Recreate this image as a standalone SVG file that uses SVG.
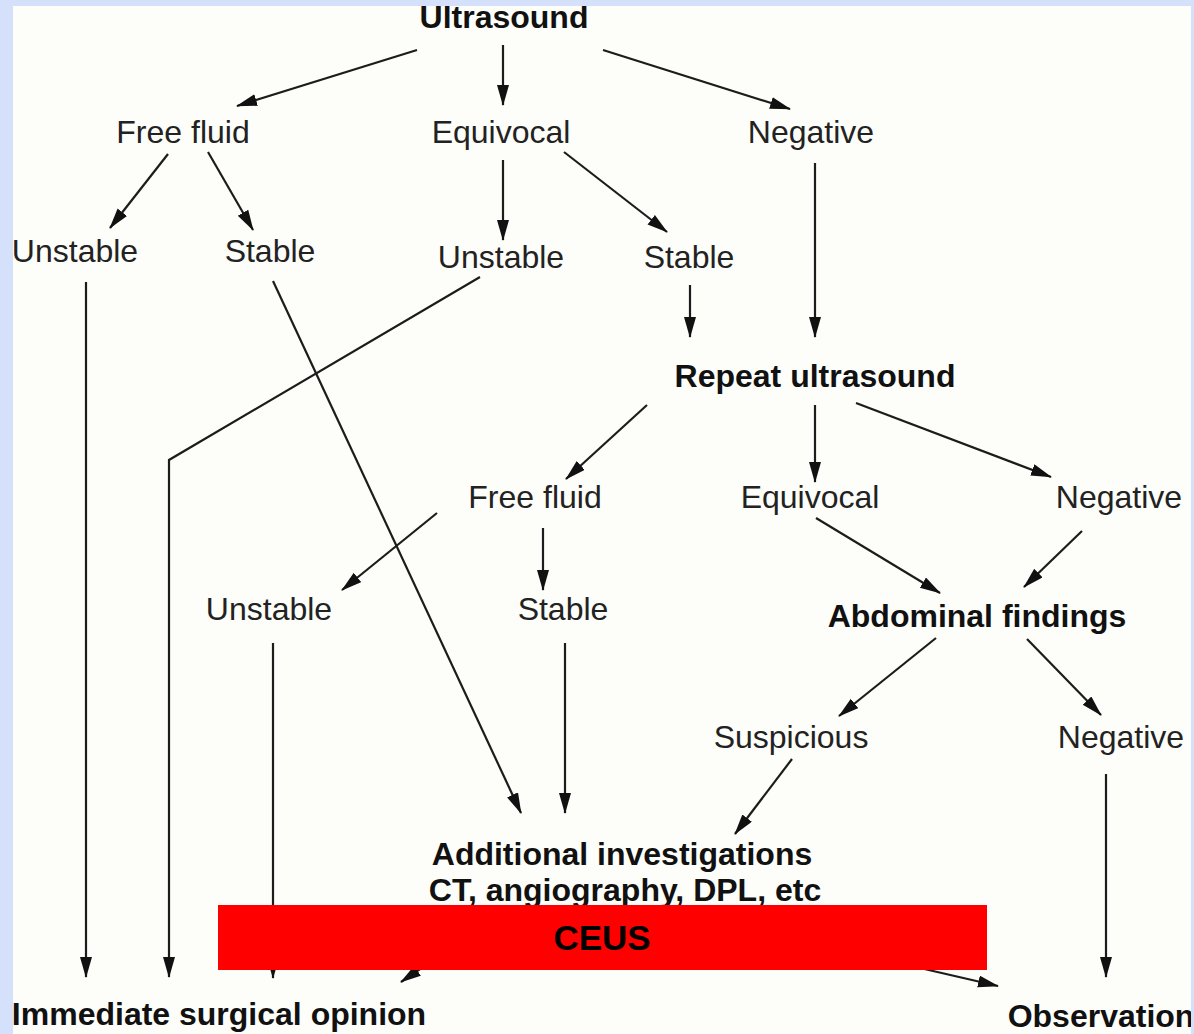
<svg xmlns="http://www.w3.org/2000/svg" width="1194" height="1034" viewBox="0 0 1194 1034">
<defs>
<style>
.t{font-family:"Liberation Sans",Arial,sans-serif;font-size:32px;fill:#222;text-anchor:middle}
.b{font-weight:bold;fill:#111}
.c line,.c polyline{stroke:#1c1c1c;stroke-width:2.2;fill:none;marker-end:url(#ah)}
</style>
<marker id="ah" markerUnits="userSpaceOnUse" markerWidth="22" markerHeight="13" refX="20" refY="6" orient="auto">
<path d="M0,0 L21,6 L0,12 z" fill="#111"/>
</marker>
</defs>
<rect x="0" y="0" width="1194" height="1034" fill="#fdfdf9"/>
<g id="connectors" class="c">
<line x1="417" y1="50" x2="237" y2="106"/>
<line x1="503" y1="45" x2="503" y2="105"/>
<line x1="603" y1="50" x2="790" y2="109"/>
<line x1="168" y1="154" x2="110" y2="228"/>
<line x1="208" y1="152" x2="253" y2="230"/>
<line x1="503" y1="160" x2="503" y2="240"/>
<line x1="564" y1="152" x2="667" y2="232"/>
<line x1="815" y1="163" x2="815" y2="337"/>
<line x1="690" y1="285" x2="690" y2="337"/>
<polyline points="480,277 169,460 169,977"/>
<line x1="86" y1="282" x2="86" y2="977"/>
<line x1="273" y1="281" x2="521" y2="813"/>
<line x1="647" y1="405" x2="566" y2="479"/>
<line x1="815" y1="405" x2="815" y2="482"/>
<line x1="856" y1="403" x2="1051" y2="477"/>
<line x1="437" y1="513" x2="342" y2="590"/>
<line x1="543" y1="528" x2="543" y2="590"/>
<line x1="565" y1="643" x2="565" y2="813"/>
<line x1="273" y1="643" x2="273" y2="978"/>
<line x1="470" y1="935" x2="401" y2="982"/>
<line x1="790" y1="938" x2="998" y2="986"/>
<line x1="792" y1="759" x2="735" y2="834"/>
<line x1="816" y1="518" x2="940" y2="593"/>
<line x1="1082" y1="531" x2="1024" y2="587"/>
<line x1="936" y1="638" x2="839" y2="716"/>
<line x1="1027" y1="639" x2="1101" y2="715"/>
<line x1="1106" y1="774" x2="1106" y2="977"/>
</g>
<g id="n-ultrasound"><text class="t b" x="504" y="28">Ultrasound</text></g>
<g id="n-freefluid1"><text class="t" x="183" y="143">Free fluid</text></g>
<g id="n-equivocal1"><text class="t" x="501" y="143">Equivocal</text></g>
<g id="n-negative1"><text class="t" x="811" y="143">Negative</text></g>
<g id="n-unstable1"><text class="t" x="75" y="262">Unstable</text></g>
<g id="n-stable1"><text class="t" x="270" y="262">Stable</text></g>
<g id="n-unstable2"><text class="t" x="501" y="268">Unstable</text></g>
<g id="n-stable2"><text class="t" x="689" y="268">Stable</text></g>
<g id="n-repeat"><text class="t b" x="815" y="387">Repeat ultrasound</text></g>
<g id="n-freefluid2"><text class="t" x="535" y="508">Free fluid</text></g>
<g id="n-equivocal2"><text class="t" x="810" y="508">Equivocal</text></g>
<g id="n-negative2"><text class="t" x="1119" y="508">Negative</text></g>
<g id="n-unstable3"><text class="t" x="269" y="620">Unstable</text></g>
<g id="n-stable3"><text class="t" x="563" y="620">Stable</text></g>
<g id="n-abdominal"><text class="t b" x="977" y="627">Abdominal findings</text></g>
<g id="n-suspicious"><text class="t" x="791" y="748">Suspicious</text></g>
<g id="n-negative3"><text class="t" x="1121" y="748">Negative</text></g>
<g id="n-additional"><text class="t b" x="622" y="865">Additional investigations</text><text class="t b" x="625" y="901">CT, angiography, DPL, etc</text></g>
<g id="n-immediate"><text class="t b" x="219" y="1025">Immediate surgical opinion</text></g>
<g id="n-observation"><text class="t b" x="1101" y="1027">Observation</text></g>
<g id="ceus"><rect x="218" y="905" width="769" height="65" fill="#ff0000"/><text x="602" y="950" font-family="Liberation Sans,Arial,sans-serif" font-size="35" font-weight="bold" fill="#000" text-anchor="middle">CEUS</text></g>
<g id="frame" fill="#d5e0fa">
<rect x="0" y="0" width="13" height="1034"/>
<rect x="0" y="0" width="1194" height="6"/>
<rect x="1191" y="0" width="3" height="1034"/>
</g>
</svg>
